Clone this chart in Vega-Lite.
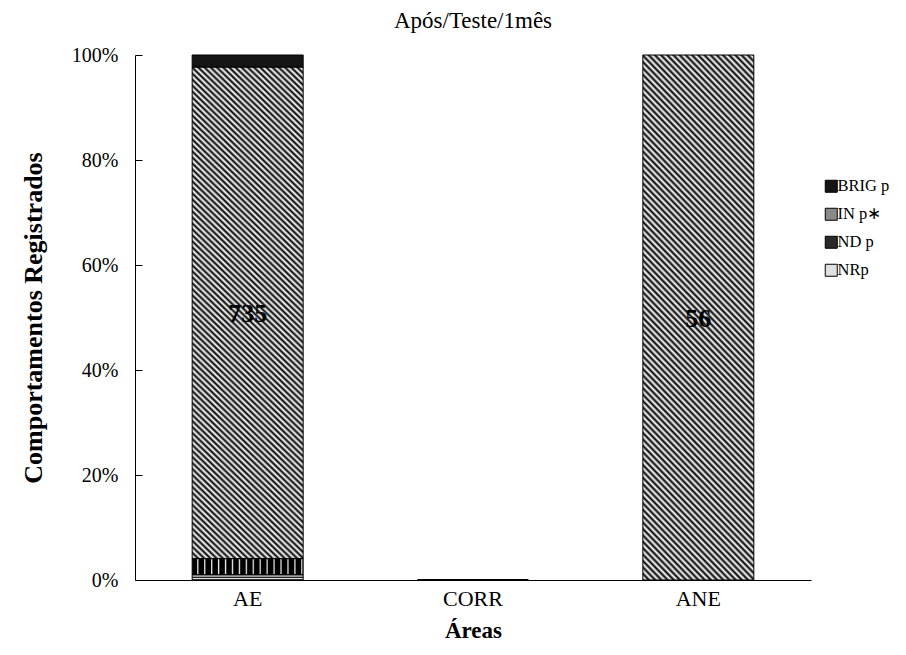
{
"$schema":"https://vega.github.io/schema/vega-lite/v6.json",
"autosize":"none",
"width":676,"height":525,
"padding":{"left":135,"top":55,"right":95,"bottom":75},
"background":"white",
"config":{"view":{"stroke":null},"font":"Liberation Serif"},
"title":{"text":"Após/Teste/1mês","font":"Liberation Serif","fontSize":23,"fontWeight":"normal","color":"black","offset":12,"anchor":"middle"},
"data":{"values":[
{"area":"AE","comp":"NRp","n":8,"ordem":1},
{"area":"AE","comp":"ND p","n":24,"ordem":2},
{"area":"AE","comp":"IN p∗","n":735,"ordem":3},
{"area":"AE","comp":"BRIG p","n":18,"ordem":4},
{"area":"ANE","comp":"IN p∗","n":56,"ordem":3}
]},
"transform":[{"stack":"n","groupby":["area"],"sort":[{"field":"ordem"}],"as":["v0","v1"],"offset":"normalize"}],
"layer":[
{"mark":{"type":"bar","stroke":"black","strokeWidth":1},
"encoding":{
"x":{"field":"area","type":"nominal","sort":["AE","CORR","ANE"],
"scale":{"domain":["AE","CORR","ANE"],"paddingInner":0.5074,"paddingOuter":0.2537},
"axis":{"title":"Áreas","labelAngle":0,"ticks":false,"domainColor":"black","labelFont":"Liberation Serif","labelFontSize":22,"labelColor":"black","labelPadding":8,"titleFont":"Liberation Serif","titleFontSize":23,"titleFontWeight":"bold","titleColor":"black","titlePadding":10}},
"y":{"field":"v0","type":"quantitative","scale":{"domain":[0,1],"nice":false},
"axis":{"title":"Comportamentos Registrados","format":".0%","values":[0,0.2,0.4,0.6,0.8,1],"grid":false,"domainColor":"black","tickColor":"black","tickSize":-7,"labelPadding":24,"labelFont":"Liberation Serif","labelFontSize":20,"labelColor":"black","titleFont":"Liberation Serif","titleFontSize":26,"titleFontWeight":"bold","titleColor":"black","titlePadding":25}},
"y2":{"field":"v1"},
"color":{"field":"comp","type":"nominal",
"scale":{"domain":["BRIG p","IN p∗","ND p","NRp"],"range":["#151515","#8a8a8a","#2a2a2a","#e0e0e0"]},
"legend":{"title":null,"orient":"none","legendX":688,"legendY":123,"symbolType":"square","symbolSize":144,"symbolStrokeColor":"black","symbolStrokeWidth":1,"labelFont":"Liberation Serif","labelFontSize":16.5,"labelColor":"black","labelOffset":-2,"rowPadding":11,
"encode":{"symbols":{"update":{"stroke":{"value":"black"},"strokeWidth":{"value":1}}}}},
"condition":[
{"test":"datum.comp === 'IN p∗'","value":{"gradient":"linear","x1":0,"y1":1,"x2":0.2541,"y2":-0.163,"stops":[
{"offset":0,"color":"#000"},{"offset":0.005,"color":"#fff"},{"offset":0.01,"color":"#000"},{"offset":0.015,"color":"#fff"},{"offset":0.02,"color":"#000"},{"offset":0.025,"color":"#fff"},{"offset":0.03,"color":"#000"},{"offset":0.035,"color":"#fff"},{"offset":0.04,"color":"#000"},{"offset":0.045,"color":"#fff"},
{"offset":0.05,"color":"#000"},{"offset":0.055,"color":"#fff"},{"offset":0.06,"color":"#000"},{"offset":0.065,"color":"#fff"},{"offset":0.07,"color":"#000"},{"offset":0.075,"color":"#fff"},{"offset":0.08,"color":"#000"},{"offset":0.085,"color":"#fff"},{"offset":0.09,"color":"#000"},{"offset":0.095,"color":"#fff"},
{"offset":0.1,"color":"#000"},{"offset":0.105,"color":"#fff"},{"offset":0.11,"color":"#000"},{"offset":0.115,"color":"#fff"},{"offset":0.12,"color":"#000"},{"offset":0.125,"color":"#fff"},{"offset":0.13,"color":"#000"},{"offset":0.135,"color":"#fff"},{"offset":0.14,"color":"#000"},{"offset":0.145,"color":"#fff"},
{"offset":0.15,"color":"#000"},{"offset":0.155,"color":"#fff"},{"offset":0.16,"color":"#000"},{"offset":0.165,"color":"#fff"},{"offset":0.17,"color":"#000"},{"offset":0.175,"color":"#fff"},{"offset":0.18,"color":"#000"},{"offset":0.185,"color":"#fff"},{"offset":0.19,"color":"#000"},{"offset":0.195,"color":"#fff"},
{"offset":0.2,"color":"#000"},{"offset":0.205,"color":"#fff"},{"offset":0.21,"color":"#000"},{"offset":0.215,"color":"#fff"},{"offset":0.22,"color":"#000"},{"offset":0.225,"color":"#fff"},{"offset":0.23,"color":"#000"},{"offset":0.235,"color":"#fff"},{"offset":0.24,"color":"#000"},{"offset":0.245,"color":"#fff"},
{"offset":0.25,"color":"#000"},{"offset":0.255,"color":"#fff"},{"offset":0.26,"color":"#000"},{"offset":0.265,"color":"#fff"},{"offset":0.27,"color":"#000"},{"offset":0.275,"color":"#fff"},{"offset":0.28,"color":"#000"},{"offset":0.285,"color":"#fff"},{"offset":0.29,"color":"#000"},{"offset":0.295,"color":"#fff"},
{"offset":0.3,"color":"#000"},{"offset":0.305,"color":"#fff"},{"offset":0.31,"color":"#000"},{"offset":0.315,"color":"#fff"},{"offset":0.32,"color":"#000"},{"offset":0.325,"color":"#fff"},{"offset":0.33,"color":"#000"},{"offset":0.335,"color":"#fff"},{"offset":0.34,"color":"#000"},{"offset":0.345,"color":"#fff"},
{"offset":0.35,"color":"#000"},{"offset":0.355,"color":"#fff"},{"offset":0.36,"color":"#000"},{"offset":0.365,"color":"#fff"},{"offset":0.37,"color":"#000"},{"offset":0.375,"color":"#fff"},{"offset":0.38,"color":"#000"},{"offset":0.385,"color":"#fff"},{"offset":0.39,"color":"#000"},{"offset":0.395,"color":"#fff"},
{"offset":0.4,"color":"#000"},{"offset":0.405,"color":"#fff"},{"offset":0.41,"color":"#000"},{"offset":0.415,"color":"#fff"},{"offset":0.42,"color":"#000"},{"offset":0.425,"color":"#fff"},{"offset":0.43,"color":"#000"},{"offset":0.435,"color":"#fff"},{"offset":0.44,"color":"#000"},{"offset":0.445,"color":"#fff"},
{"offset":0.45,"color":"#000"},{"offset":0.455,"color":"#fff"},{"offset":0.46,"color":"#000"},{"offset":0.465,"color":"#fff"},{"offset":0.47,"color":"#000"},{"offset":0.475,"color":"#fff"},{"offset":0.48,"color":"#000"},{"offset":0.485,"color":"#fff"},{"offset":0.49,"color":"#000"},{"offset":0.495,"color":"#fff"},
{"offset":0.5,"color":"#000"},{"offset":0.505,"color":"#fff"},{"offset":0.51,"color":"#000"},{"offset":0.515,"color":"#fff"},{"offset":0.52,"color":"#000"},{"offset":0.525,"color":"#fff"},{"offset":0.53,"color":"#000"},{"offset":0.535,"color":"#fff"},{"offset":0.54,"color":"#000"},{"offset":0.545,"color":"#fff"},
{"offset":0.55,"color":"#000"},{"offset":0.555,"color":"#fff"},{"offset":0.56,"color":"#000"},{"offset":0.565,"color":"#fff"},{"offset":0.57,"color":"#000"},{"offset":0.575,"color":"#fff"},{"offset":0.58,"color":"#000"},{"offset":0.585,"color":"#fff"},{"offset":0.59,"color":"#000"},{"offset":0.595,"color":"#fff"},
{"offset":0.6,"color":"#000"},{"offset":0.605,"color":"#fff"},{"offset":0.61,"color":"#000"},{"offset":0.615,"color":"#fff"},{"offset":0.62,"color":"#000"},{"offset":0.625,"color":"#fff"},{"offset":0.63,"color":"#000"},{"offset":0.635,"color":"#fff"},{"offset":0.64,"color":"#000"},{"offset":0.645,"color":"#fff"},
{"offset":0.65,"color":"#000"},{"offset":0.655,"color":"#fff"},{"offset":0.66,"color":"#000"},{"offset":0.665,"color":"#fff"},{"offset":0.67,"color":"#000"},{"offset":0.675,"color":"#fff"},{"offset":0.68,"color":"#000"},{"offset":0.685,"color":"#fff"},{"offset":0.69,"color":"#000"},{"offset":0.695,"color":"#fff"},
{"offset":0.7,"color":"#000"},{"offset":0.705,"color":"#fff"},{"offset":0.71,"color":"#000"},{"offset":0.715,"color":"#fff"},{"offset":0.72,"color":"#000"},{"offset":0.725,"color":"#fff"},{"offset":0.73,"color":"#000"},{"offset":0.735,"color":"#fff"},{"offset":0.74,"color":"#000"},{"offset":0.745,"color":"#fff"},
{"offset":0.75,"color":"#000"},{"offset":0.755,"color":"#fff"},{"offset":0.76,"color":"#000"},{"offset":0.765,"color":"#fff"},{"offset":0.77,"color":"#000"},{"offset":0.775,"color":"#fff"},{"offset":0.78,"color":"#000"},{"offset":0.785,"color":"#fff"},{"offset":0.79,"color":"#000"},{"offset":0.795,"color":"#fff"},
{"offset":0.8,"color":"#000"},{"offset":0.805,"color":"#fff"},{"offset":0.81,"color":"#000"},{"offset":0.815,"color":"#fff"},{"offset":0.82,"color":"#000"},{"offset":0.825,"color":"#fff"},{"offset":0.83,"color":"#000"},{"offset":0.835,"color":"#fff"},{"offset":0.84,"color":"#000"},{"offset":0.845,"color":"#fff"},
{"offset":0.85,"color":"#000"},{"offset":0.855,"color":"#fff"},{"offset":0.86,"color":"#000"},{"offset":0.865,"color":"#fff"},{"offset":0.87,"color":"#000"},{"offset":0.875,"color":"#fff"},{"offset":0.88,"color":"#000"},{"offset":0.885,"color":"#fff"},{"offset":0.89,"color":"#000"},{"offset":0.895,"color":"#fff"},
{"offset":0.9,"color":"#000"},{"offset":0.905,"color":"#fff"},{"offset":0.91,"color":"#000"},{"offset":0.915,"color":"#fff"},{"offset":0.92,"color":"#000"},{"offset":0.925,"color":"#fff"},{"offset":0.93,"color":"#000"},{"offset":0.935,"color":"#fff"},{"offset":0.94,"color":"#000"},{"offset":0.945,"color":"#fff"},
{"offset":0.95,"color":"#000"},{"offset":0.955,"color":"#fff"},{"offset":0.96,"color":"#000"},{"offset":0.965,"color":"#fff"},{"offset":0.97,"color":"#000"},{"offset":0.975,"color":"#fff"},{"offset":0.98,"color":"#000"},{"offset":0.985,"color":"#fff"},{"offset":0.99,"color":"#000"},{"offset":0.995,"color":"#fff"},
{"offset":1,"color":"#000"}]}},
{"test":"datum.comp === 'ND p'","value":{"gradient":"linear","x1":0,"y1":0,"x2":1,"y2":0,"stops":[
{"offset":0,"color":"#000"},{"offset":0.04,"color":"#000"},{"offset":0.05,"color":"#eee"},
{"offset":0.0625,"color":"#000"},{"offset":0.1025,"color":"#000"},{"offset":0.1125,"color":"#eee"},
{"offset":0.125,"color":"#000"},{"offset":0.165,"color":"#000"},{"offset":0.175,"color":"#eee"},
{"offset":0.1875,"color":"#000"},{"offset":0.2275,"color":"#000"},{"offset":0.2375,"color":"#eee"},
{"offset":0.25,"color":"#000"},{"offset":0.29,"color":"#000"},{"offset":0.3,"color":"#eee"},
{"offset":0.3125,"color":"#000"},{"offset":0.3525,"color":"#000"},{"offset":0.3625,"color":"#eee"},
{"offset":0.375,"color":"#000"},{"offset":0.415,"color":"#000"},{"offset":0.425,"color":"#eee"},
{"offset":0.4375,"color":"#000"},{"offset":0.4775,"color":"#000"},{"offset":0.4875,"color":"#eee"},
{"offset":0.5,"color":"#000"},{"offset":0.54,"color":"#000"},{"offset":0.55,"color":"#eee"},
{"offset":0.5625,"color":"#000"},{"offset":0.6025,"color":"#000"},{"offset":0.6125,"color":"#eee"},
{"offset":0.625,"color":"#000"},{"offset":0.665,"color":"#000"},{"offset":0.675,"color":"#eee"},
{"offset":0.6875,"color":"#000"},{"offset":0.7275,"color":"#000"},{"offset":0.7375,"color":"#eee"},
{"offset":0.75,"color":"#000"},{"offset":0.79,"color":"#000"},{"offset":0.8,"color":"#eee"},
{"offset":0.8125,"color":"#000"},{"offset":0.8525,"color":"#000"},{"offset":0.8625,"color":"#eee"},
{"offset":0.875,"color":"#000"},{"offset":0.915,"color":"#000"},{"offset":0.925,"color":"#eee"},
{"offset":0.9375,"color":"#000"},{"offset":0.9775,"color":"#000"},{"offset":0.9875,"color":"#eee"},
{"offset":1,"color":"#000"}]}},
{"test":"datum.comp === 'NRp'","value":{"gradient":"linear","x1":0,"y1":0,"x2":0,"y2":1,"stops":[
{"offset":0,"color":"#000"},{"offset":0.25,"color":"#fff"},{"offset":0.5,"color":"#000"},{"offset":0.75,"color":"#fff"},{"offset":1,"color":"#000"}]}}
]}
}},
{"data":{"values":[{"area":"CORR","n":0}]},
"mark":{"type":"bar","stroke":"black","strokeWidth":2,"fill":"black"},
"encoding":{
"x":{"field":"area","type":"nominal","sort":["AE","CORR","ANE"]},
"y":{"field":"n","type":"quantitative"},
"y2":{"datum":0}}},
{"transform":[{"filter":"datum.comp === 'IN p∗'"},{"calculate":"(datum.v0 + datum.v1) / 2","as":"meio"}],
"mark":{"type":"text","font":"Liberation Serif","fontSize":26,"fontWeight":"bold","color":"black","baseline":"middle","align":"center","dy":1},
"encoding":{
"x":{"field":"area","type":"nominal","sort":["AE","CORR","ANE"]},
"y":{"field":"meio","type":"quantitative"},
"text":{"field":"n","type":"quantitative"}}}
]
}
